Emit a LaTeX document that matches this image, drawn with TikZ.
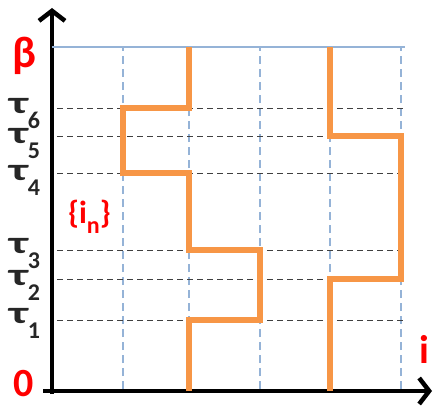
\documentclass[tikz,border=0pt]{standalone}
\usepackage{fontspec}
\setmainfont{Carlito}
\usetikzlibrary{arrows.meta}
\definecolor{orng}{HTML}{F79646}
\definecolor{gridblue}{HTML}{95B3D7}
\definecolor{lblred}{HTML}{FF0000}
\newcommand\tausub[1]{\scalebox{1.4}[0.92]{τ}\raisebox{-0.45em}{\fontsize{24}{24}\selectfont #1}}
\begin{document}
\begin{tikzpicture}[x=1pt,y=1pt,
  axisline/.style={line width=4.5pt,-{Straight Barb[length=10pt,width=26pt]}},
  gridv/.style={gridblue,line width=1.1pt,dash pattern=on 8pt off 5pt},
  gridh/.style={black!75,line width=1pt,dash pattern=on 6pt off 4pt},
  walk/.style={orng,line width=6.5pt,line join=miter},
  taulbl/.style={font=\bfseries\fontsize{34}{34}\selectfont,text=black!85,inner sep=0pt,anchor=base west},
  redlbl/.style={text=lblred,inner sep=0pt}]
\useasboundingbox (0,0) rectangle (435,405);
% axes
\coordinate (ybot) at (52,11.5);
\coordinate (ytop) at (52,397);
\coordinate (xbeg) at (43,14);
\coordinate (xend) at (432,14);
\draw[axisline] (ybot) -- (ytop);
\draw[axisline] (xbeg) -- (xend);
% top line
\coordinate (bl) at (52,358);
\coordinate (br) at (405,358);
\draw[gridblue,line width=1.1pt] (bl) -- (br);
% vertical dashed
\foreach \x [count=\k] in {123,189,260,330,401}{
  \coordinate (vb\k) at (\x,16);
  \coordinate (vt\k) at (\x,358);
  \draw[gridv] (vb\k) -- (vt\k);
}
% horizontal dashed
\foreach \y [count=\k] in {85,126,155,232,269,297}{
  \coordinate (hl\k) at (57,\y);
  \coordinate (hr\k) at (405,\y);
  \draw[gridh] (hl\k) -- (hr\k);
}
% walks
\draw[walk] (189,14) -- (189,85) -- (260,85) -- (260,155) -- (189,155) -- (189,232)
  -- (123,232) -- (123,297) -- (189,297) -- (189,358);
\draw[walk] (330,14) -- (330,126) -- (401,126) -- (401,269) -- (330,269) -- (330,358);
% labels
\node[taulbl] (t6) at (9,292) {\tausub{6}};
\node[taulbl] (t5) at (9,262) {\tausub{5}};
\node[taulbl] (t4) at (9,225) {\tausub{4}};
\node[taulbl] (t3) at (9,152) {\tausub{3}};
\node[taulbl] (t2) at (9,120) {\tausub{2}};
\node[taulbl] (t1) at (9,82) {\tausub{1}};
\node[redlbl,font=\bfseries\fontsize{44}{44}\selectfont] (beta) at (24.5,349) {β};
\node[redlbl,font=\bfseries\fontsize{40}{40}\selectfont,anchor=base] (zero) at (23.5,9) {0};
\node[redlbl,font=\bfseries\fontsize{40}{40}\selectfont] (ilbl) at (424.5,56) {i};
\node[redlbl,font=\bfseries\fontsize{32}{32}\selectfont] (in) at (89.5,188) {\{i\raisebox{-0.3em}{\fontsize{24}{24}\selectfont n}\}};
\end{tikzpicture}
\end{document}
